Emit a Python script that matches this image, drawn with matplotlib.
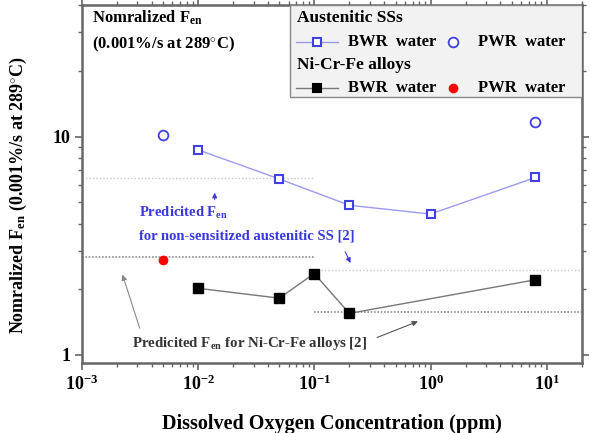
import numpy as np
import matplotlib
matplotlib.use("Agg")
import matplotlib.pyplot as plt
from matplotlib.lines import Line2D
from matplotlib.patches import Rectangle
from matplotlib.ticker import FuncFormatter

plt.rcParams["font.family"] = ["Liberation Serif", "DejaVu Serif"]
plt.rcParams["font.weight"] = "bold"
plt.rcParams["axes.labelweight"] = "bold"
plt.rcParams["mathtext.fontset"] = "custom"
plt.rcParams["mathtext.rm"] = "Liberation Serif:bold"
plt.rcParams["mathtext.bf"] = "Liberation Serif:bold"
plt.rcParams["mathtext.it"] = "Liberation Serif:bold"

# austenitic stainless steels
ss_bwr_do = [0.01, 0.05, 0.2, 1.0, 8.0]
ss_bwr_fen = [8.7, 6.4, 4.85, 4.42, 6.5]
ss_pwr_do = [0.005, 8.0]
ss_pwr_fen = [10.2, 11.7]

# Ni-Cr-Fe alloys
ni_bwr_do = [0.01, 0.05, 0.1, 0.2, 8.0]
ni_bwr_fen = [2.02, 1.82, 2.36, 1.55, 2.21]
ni_pwr_do = [0.005]
ni_pwr_fen = [2.73]

# predicted Fen levels (low DO / high DO)
pred_ss_low, pred_ss_high = 6.45, 2.45
pred_ni_low, pred_ni_high = 2.8, 1.57
do_split = 0.1
xmin, xmax = 1e-3, 20
ymin, ymax = 0.92, 40

blue_line = "#9a9af0"
blue_mk = "#4040e8"

fig = plt.figure(figsize=(5.93, 4.33), dpi=100)
ax = fig.add_axes([0.138, 0.162, 0.843, 0.826])
ax.set_xscale("log")
ax.set_yscale("log")
ax.set_xlim(xmin, xmax)
ax.set_ylim(ymin, ymax)

# predicted levels
ax.plot([xmin, do_split], [pred_ss_low] * 2, ls=(0, (1, 1.5)), color="#c8c8c8", lw=1)
ax.plot([do_split, xmax], [pred_ss_high] * 2, ls=(0, (1, 1.5)), color="#c8c8c8", lw=1)
ax.plot([xmin, do_split], [pred_ni_low] * 2, ls=(0, (1, 1)), color="#909090", lw=1.2)
ax.plot([do_split, xmax], [pred_ni_high] * 2, ls=(0, (1, 1)), color="#909090", lw=1.2)

ax.plot(ss_bwr_do, ss_bwr_fen, "-", color=blue_line, lw=1, marker="s", ms=6,
        mfc="white", mec=blue_mk, mew=1.5, zorder=3)
ax.plot(ss_pwr_do, ss_pwr_fen, "o", ms=7, mfc="white", mec=blue_mk, mew=1.3, zorder=3)
ax.plot(ni_bwr_do, ni_bwr_fen, "-", color="#777777", lw=1, marker="s", ms=6.5,
        mfc="black", mec="black", zorder=3)
ax.plot(ni_pwr_do, ni_pwr_fen, "o", ms=6, color="red", zorder=3)

# annotations
ax.text(0.0031, 4.47, r"Predicited F$_{\mathrm{en}}$", color="#3838e0", fontsize=10.5,
        va="center")
ax.text(0.0031, 3.5, "for non-sensitized austenitic SS [2]", color="#3838e0",
        fontsize=10.5, va="center")
ax.annotate("", xy=(0.0139, 5.7), xytext=(0.0139, 5.0),
            arrowprops=dict(arrowstyle="-|>", color="#3838e0", lw=0.8, mutation_scale=7))
ax.annotate("", xy=(0.21, 2.57), xytext=(0.18, 3.05),
            arrowprops=dict(arrowstyle="-|>", color="#3838e0", lw=0.8, mutation_scale=7))

ax.text(0.0027, 1.13, r"Predicited F$_{\mathrm{en}}$ for Ni-Cr-Fe alloys [2]",
        color="#333333", fontsize=10.7, va="center")
ax.annotate("", xy=(0.0022, 2.4), xytext=(0.0032, 1.29),
            arrowprops=dict(arrowstyle="-|>", color="#888888", lw=0.8, mutation_scale=8))
ax.annotate("", xy=(0.82, 1.44), xytext=(0.33, 1.19),
            arrowprops=dict(arrowstyle="-|>", color="#555555", lw=0.8, mutation_scale=8))

ax.text(0.02, 0.964, r"Nomralized F$_{\mathrm{en}}$", transform=ax.transAxes,
        fontsize=12, va="center")
ax.text(0.02, 0.89, r"(0.001%/s at 289$^{\circ}$C)", transform=ax.transAxes,
        fontsize=12, va="center")

# legend box drawn by hand (grouped headers)
ax.add_patch(Rectangle((0.416, 0.743), 0.584, 0.257, transform=ax.transAxes,
                       facecolor="#f2f2f2", edgecolor="#888888", lw=1, zorder=4))
rows = [0.964, 0.897, 0.832, 0.768]
ax.text(0.43, rows[0], "Austenitic SSs", transform=ax.transAxes, fontsize=12.5,
        va="center", zorder=5)
ax.text(0.43, rows[2], "Ni-Cr-Fe alloys", transform=ax.transAxes, fontsize=12.5,
        va="center", zorder=5)
for r, lc, mfc, mec, pc in [(rows[1], blue_line, "white", blue_mk, None),
                            (rows[3], "#777777", "black", "black", "red")]:
    ax.add_line(Line2D([0.428, 0.512], [r, r], color=lc, lw=1, transform=ax.transAxes, zorder=5))
    ax.add_line(Line2D([0.47], [r], marker="s", ms=6, mfc=mfc, mec=mec, mew=1.5,
                       transform=ax.transAxes, zorder=6))
    if pc is None:
        ax.add_line(Line2D([0.742], [r], marker="o", ms=7, mfc="white", mec=blue_mk,
                           mew=1.3, transform=ax.transAxes, zorder=6))
    else:
        ax.add_line(Line2D([0.742], [r], marker="o", ms=6, color=pc,
                           transform=ax.transAxes, zorder=6))
    ax.text(0.532, r, "BWR  water", transform=ax.transAxes, fontsize=12, va="center", zorder=5)
    ax.text(0.792, r, "PWR  water", transform=ax.transAxes, fontsize=12, va="center", zorder=5)

for s in ax.spines.values():
    s.set_color("#666666")
    s.set_linewidth(1.8)
ax.xaxis.set_major_formatter(FuncFormatter(
    lambda v, p: r"$\mathrm{10^{%d}}$" % int(round(np.log10(v)))))
ax.yaxis.set_major_formatter(FuncFormatter(lambda v, p: "%g" % v))
ax.tick_params(which="both", top=True, right=True, color="#666666", labelsize=13)
ax.tick_params(which="major", length=5, width=1.2)
ax.tick_params(which="minor", length=3, width=1)

ax.set_xlabel("Dissolved Oxygen Concentration (ppm)", fontsize=14.5)
ax.xaxis.set_label_coords(0.5, -0.142)
ax.set_ylabel(r"Nomralized F$_{\mathrm{en}}$ (0.001%/s at 289$^{\circ}$C)", fontsize=13)
ax.yaxis.set_label_coords(-0.106, 0.47)

fig.savefig("out.png", dpi=100)
